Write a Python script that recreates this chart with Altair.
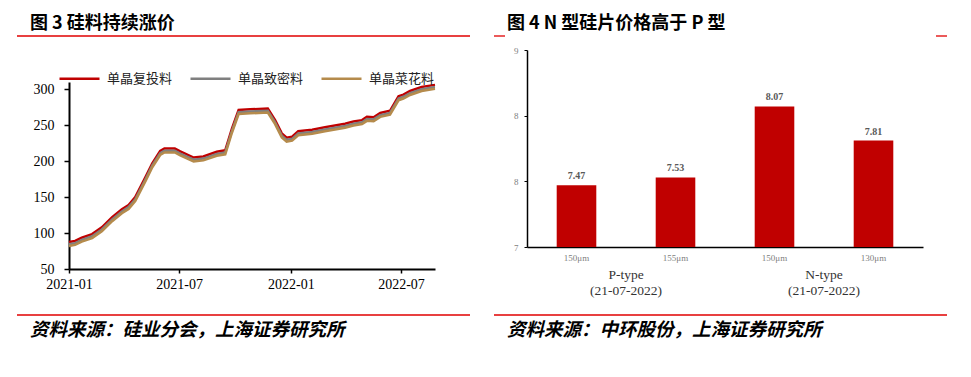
import altair as alt
import pandas as pd

# ---------------- left panel data (元/kg) ----------------
dates = ["2021-01-01", "2021-01-11", "2021-01-22", "2021-02-08", "2021-02-24", "2021-03-13",
         "2021-03-29", "2021-04-09", "2021-04-20", "2021-05-07", "2021-05-18", "2021-05-31",
         "2021-06-07", "2021-06-24", "2021-07-03", "2021-07-25", "2021-08-10", "2021-09-01",
         "2021-09-15", "2021-09-26", "2021-10-07", "2021-10-26", "2021-11-24", "2021-12-06",
         "2021-12-17", "2021-12-25", "2022-01-03", "2022-01-13", "2022-02-05", "2022-02-26",
         "2022-03-31", "2022-04-14", "2022-04-28", "2022-05-06", "2022-05-17", "2022-05-28",
         "2022-06-13", "2022-06-27", "2022-07-05", "2022-07-16", "2022-08-04", "2022-08-26"]
red = [87.5, 89, 93.5, 98.5, 108, 122, 133, 139, 150, 178, 197, 214, 217.5, 217.5, 213.5, 205,
       206.5, 213, 215, 245, 271, 272, 273, 257, 238.5, 232.5, 234, 241.5, 243.5, 247, 252, 255,
       257, 261.5, 261, 267, 270, 290, 292.5, 297.5, 303, 306]
grey = [84.5, 86, 90.5, 95.5, 105, 119, 130, 136, 147, 175, 194, 211, 214.5, 214.5, 210.5, 202,
        203.5, 210, 212, 242, 268, 269, 270, 254, 235.5, 229.5, 231, 238.5, 240.5, 244, 249, 252,
        254, 258.5, 258, 264, 267, 287, 289.5, 294.5, 300, 303]
gold = [82, 83.5, 88, 93, 102.5, 116.5, 127.5, 133.5, 144.5, 172.5, 191.5, 208.5, 212, 212, 208,
        199.5, 201, 207.5, 209.5, 239.5, 265.5, 266.5, 267.5, 251.5, 233, 227, 228.5, 236, 238,
        241.5, 246.5, 249.5, 251.5, 256, 255.5, 261.5, 264.5, 284.5, 287, 292, 297.5, 300.5]
series_names = ["单晶复投料", "单晶致密料", "单晶菜花料"]
series_colors = ["#C00000", "#7F7F7F", "#B58B4C"]
left_y_ticks = [50, 100, 150, 200, 250, 300]
left_x_ticks = [(2021, 1), (2021, 7), (2022, 1), (2022, 7)]

# ---------------- right panel data ----------------
bar_keys = ["P150", "P155", "N150", "N130"]
bar_labels = ["150μm", "155μm", "150μm", "130μm"]
bar_values = [7.47, 7.53, 8.07, 7.81]
group_names = ["P-type", "N-type"]
group_dates = ["(21-07-2022)", "(21-07-2022)"]
right_y_ticks = [7, 7.5, 8, 8.5]

# ---------------- texts ----------------
title_left = "图 3 硅料持续涨价"
title_right = "图 4 N 型硅片价格高于 P 型"
source_left = "资料来源：硅业分会，上海证券研究所"
source_right = "资料来源：中环股份，上海证券研究所"

SERIF = "Liberation Serif"
CJK = "Noto Sans CJK SC"

rows = []
for name, vals in zip(series_names, [red, grey, gold]):
    for d, v in zip(dates, vals):
        rows.append({"date": d, "value": v, "series": name})
line_df = pd.DataFrame(rows)

def dt(y, m, d=1):
    return alt.DateTime(year=y, month=m, date=d, utc=True)

line = alt.Chart(line_df).mark_line(strokeWidth=2.5).encode(
    x=alt.X("date:T",
            scale=alt.Scale(type="utc", domain=[dt(2021, 1), dt(2022, 8, 26)], range=[69, 435]),
            axis=alt.Axis(orient="bottom", offset=-108, title=None,
                          values=[dt(y, m) for y, m in left_x_ticks],
                          labelExpr="utcFormat(datum.value, '%Y-%m')",
                          domainColor="black", domainWidth=2, tickColor="black", tickWidth=1.5,
                          tickSize=4, labelFont=SERIF, labelFontSize=14, labelColor="black",
                          labelPadding=4, grid=False, labelFlush=False, labelOverlap=False)),
    y=alt.Y("value:Q",
            scale=alt.Scale(domain=[50, 310], range=[269, 82], nice=False, zero=False),
            axis=alt.Axis(orient="left", offset=-69, title=None, values=left_y_ticks,
                          domainColor="black", domainWidth=2, tickColor="black", tickWidth=1.5,
                          tickSize=5, labelFont=SERIF, labelFontSize=14, labelColor="black",
                          labelPadding=10, grid=False)),
    color=alt.Color("series:N", sort=series_names,
                    scale=alt.Scale(domain=series_names, range=series_colors),
                    legend=alt.Legend(orient="none", legendX=58, legendY=57, direction="horizontal",
                                      title=None, symbolType="stroke", symbolSize=1600,
                                      symbolStrokeWidth=2.5, labelFont=CJK, labelFontSize=13,
                                      labelColor="#222222", columnPadding=12, labelOffset=6)),
)

bar_df = pd.DataFrame({"key": bar_keys, "value": bar_values})
label_expr = "[" + ",".join("'%s'" % s for s in bar_labels) + "][indexof([" + \
    ",".join("'%s'" % k for k in bar_keys) + "], datum.value)]"

bx = alt.X("key:N", sort=bar_keys,
           scale=alt.Scale(domain=bar_keys, range=[527, 923], paddingInner=0.6, paddingOuter=0.3),
           axis=alt.Axis(orient="bottom", offset=-130, title=None, labelExpr=label_expr,
                         domainColor="black", domainWidth=1.5, ticks=False, labelFont=SERIF,
                         labelFontSize=9, labelColor="#808080", labelPadding=6, labelAngle=0,
                         grid=False))
by = alt.Y("value:Q",
           scale=alt.Scale(domain=[7, 8.5], range=[247, 50], nice=False, zero=False),
           axis=alt.Axis(orient="left", offset=-527, title=None, values=right_y_ticks, format=".0f",
                         domainColor="black", domainWidth=1.5, tickColor="black", tickSize=3,
                         labelFont=SERIF, labelFontSize=9, labelColor="#808080", labelPadding=6,
                         grid=False))

bars = alt.Chart(bar_df).mark_bar(color="#C00000").encode(x=bx, y=by, y2=alt.datum(7))
bar_text = alt.Chart(bar_df).mark_text(font=SERIF, fontSize=10, fontWeight="bold",
                                       color="#595959", baseline="bottom", dy=-4).encode(
    x=bx, y=by, text=alt.Text("value:Q", format=".2f"))
bar_panel = alt.layer(bars, bar_text)

grp_df = pd.DataFrame({"group": group_names,
                       "label": [g + "\n" + d for g, d in zip(group_names, group_dates)]})
groups = alt.Chart(grp_df).mark_text(font=SERIF, fontSize=13.5, color="#333333", baseline="top",
                                     lineBreak="\n", lineHeight=16).encode(
    x=alt.X("group:N", sort=group_names,
            scale=alt.Scale(domain=group_names, range=[527, 923], paddingInner=0, paddingOuter=0),
            axis=None),
    y=alt.value(268),
    text="label:N")

one = pd.DataFrame({"a": [0]})

def txt(s, x, y, size=18, italic=False):
    return alt.Chart(one).mark_text(font=CJK, fontSize=size, fontWeight="bold",
                                    fontStyle="italic" if italic else "normal",
                                    align="left", baseline="middle", color="black").encode(
        x=alt.value(x), y=alt.value(y), text=alt.value(s))

def rule(x1, x2, y):
    return alt.Chart(one).mark_rule(color="#E00000", strokeWidth=1.3).encode(
        x=alt.value(x1), x2=alt.value(x2), y=alt.value(y))

decor = [
    txt(title_left, 30, 24), rule(17, 470, 36),
    txt(title_right, 507, 24), rule(494, 505, 36), rule(936, 947, 36),
    rule(17, 470, 315), txt(source_left, 30, 330, 18.5, True),
    rule(494, 947, 315), txt(source_right, 507, 330, 18.5, True),
]

chart = alt.layer(line, bar_panel, groups, *decor).resolve_scale(
    x="independent", y="independent", color="independent"
).properties(
    width=971, height=377, padding=0,
    autosize=alt.AutoSizeParams(type="none"),
    background="white",
).configure_view(strokeWidth=0)

chart.save("out.html", embed_options={"renderer": "svg", "actions": False})
